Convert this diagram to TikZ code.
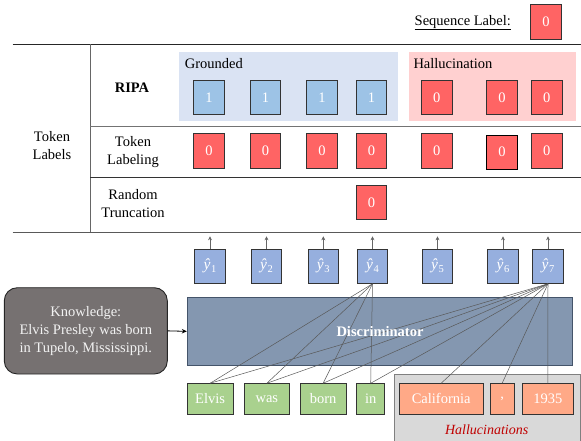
\documentclass[tikz,border=0pt]{standalone}
\usepackage{fontspec}
\setmainfont{Liberation Serif}
\usetikzlibrary{arrows.meta}
\definecolor{redbox}{HTML}{FF6464}
\definecolor{bluelab}{HTML}{9DC3E6}
\definecolor{yhatc}{HTML}{96AFDE}
\definecolor{groundbg}{HTML}{DAE3F3}
\definecolor{hallbg}{HTML}{FFD0D0}
\definecolor{greenw}{HTML}{A9D18E}
\definecolor{orangew}{HTML}{FFA987}
\definecolor{discf}{HTML}{8497B0}
\definecolor{discd}{HTML}{44546A}
\definecolor{knowf}{HTML}{767171}
\definecolor{grayreg}{HTML}{D9D9D9}
\definecolor{hallred}{HTML}{C00000}
\newcommand{\yh}[1]{{\fontsize{15.5}{18}\selectfont\itshape ŷ}\kern0.5pt\raisebox{-2.5pt}{\fontsize{10.5}{12}\selectfont #1}}
\begin{document}
\begin{tikzpicture}[x=1pt,y=-1pt,
  every node/.style={font=\fontsize{14.5}{18}\selectfont},
  lab/.style={draw=black!80, line width=0.9pt, minimum width=30.5pt, minimum height=34.3pt, inner sep=0pt, text=white},
  zero/.style={lab, fill=redbox},
  one/.style={lab, fill=bluelab},
  yhat/.style={lab, fill=yhatc},
  wordbox/.style={draw=black!80, line width=0.9pt, minimum height=30.3pt, inner sep=0pt, text=white},
  green/.style={wordbox, fill=greenw},
  orange/.style={wordbox, fill=orangew},
  conn/.style={draw=black!65, line width=0.5pt},
  up/.style={draw=black!60, line width=0.6pt, -{Stealth[length=4pt,width=4pt]}},
  rule/.style={line width=0.9pt}
]
\useasboundingbox (0,0) rectangle (581,441);

% ---- table rules ----
\draw[rule, black!85] (12.7,44.3) -- (581,44.3);
\draw[rule, black!60] (90,44.3) -- (90,232.7);
\draw[rule, black!55] (90,126.7) -- (581,126.7);
\draw[rule, black!80] (90,177.3) -- (581,177.3);
\draw[rule, black!65] (12.7,232.7) -- (581,232.7);

% ---- row headers ----
\node[align=center] (tokl) at (52,146) {Token\\Labels};
\node[font=\fontsize{14.5}{18}\selectfont\bfseries] (ripa) at (132,88) {RIPA};
\node[align=center] (tlab) at (133,152.5) {Token\\Labeling};
\node[align=center] (rtr) at (133,204) {Random\\Truncation};

% ---- sequence label ----
\node (seqt) at (462.8,22.7) {\underline{Sequence Label:}};
\node[zero] (seq) at (546,22) {0};

% ---- regions ----
\node[fill=groundbg, minimum width=218.7pt, minimum height=68.7pt, inner sep=0pt] (ground) at (288.35,86.35) {};
\node[fill=hallbg, minimum width=166.7pt, minimum height=68.7pt, inner sep=0pt] (hall) at (492.35,86.35) {};
\node[anchor=west, inner sep=0pt] (groundt) at (184.7,64) {Grounded};
\node[anchor=west, inner sep=0pt] (hallt) at (413.3,64) {Hallucination};

% ---- RIPA row ----
\node[one] (r1) at (209,97.5) {1};
\node[one] (r2) at (265.5,97.5) {1};
\node[one] (r3) at (322,97.5) {1};
\node[one] (r4) at (371.5,97.5) {1};
\node[zero] (r5) at (436.8,97.5) {0};
\node[zero] (r6) at (502,97.5) {0};
\node[zero] (r7) at (546.8,97.5) {0};

% ---- token labeling row ----
\node[zero] (t1) at (209,151) {0};
\node[zero] (t2) at (265.5,151) {0};
\node[zero] (t3) at (322,151) {0};
\node[zero] (t4) at (371.5,151) {0};
\node[zero] (t5) at (436.8,151) {0};
\node[zero, draw=black] (t6) at (502,152.2) {0};
\node[zero] (t7) at (546.8,151) {0};

% ---- random truncation row ----
\node[zero] (rt4) at (371.5,202.5) {0};

% ---- hallucination gray region ----
\node[fill=grayreg, draw=black!50, line width=0.9pt, minimum width=186pt, minimum height=72pt, inner sep=0pt] (hreg) at (487.5,410.3) {};
\node[text=hallred, font=\fontsize{14}{17}\selectfont\itshape] (hregt) at (486.7,430) {Hallucinations};

% ---- knowledge ----
\node[fill=knowf, draw=black!85, line width=0.9pt, rounded corners=13pt, minimum width=163pt, minimum height=86.3pt, inner sep=0pt, align=center, text=white!95!black] (know) at (85.8,330.85) {Knowledge:\\Elvis Presley was born\\in Tupelo, Mississippi.};

% ---- discriminator ----
\node[fill=discf, draw=discd, line width=1pt, minimum width=385.4pt, minimum height=67.3pt, inner sep=0pt] (disc) at (380,331.35) {};
\draw[-{Stealth[length=5pt,width=4.5pt]}, line width=0.8pt] (know.east) -- (disc.west);

% ---- y-hat boxes ----
\node[yhat] (y1) at (210,266.2) {\yh{1}};
\node[yhat] (y2) at (266.5,266.2) {\yh{2}};
\node[yhat] (y3) at (323.3,266.2) {\yh{3}};
\node[yhat] (y4) at (372.5,266.2) {\yh{4}};
\node[yhat] (y5) at (437.5,266.2) {\yh{5}};
\node[yhat] (y6) at (503,266.2) {\yh{6}};
\node[yhat] (y7) at (548,266.2) {\yh{7}};
\foreach \i in {1,...,7}{
  \path (y\i.north) ++(0,-12.3) coordinate (a\i);
  \draw[up] (y\i.north) -- (a\i);
}

% ---- word boxes ----
\node[green, minimum width=45.7pt] (w1) at (210.15,398.85) {Elvis};
\node[green, minimum width=45.7pt] (w2) at (266.85,398.85) {was};
\node[green, minimum width=45.7pt] (w3) at (323.15,398.85) {born};
\node[green, minimum width=28pt] (w4) at (370.7,398.85) {in};
\node[orange, minimum width=84.3pt] (w5) at (441.15,398.85) {California};
\node[orange, minimum width=24.3pt] (w6) at (502.15,398.85) {,};
\node[orange, minimum width=51pt] (w7) at (547.8,398.85) {1935};

% ---- attention connectors ----
\foreach \i in {1,...,4}{
  \draw[conn] (y4.south) -- (w\i.north);
}
\foreach \i in {1,...,7}{
  \draw[conn] (y7.south) -- (w\i.north);
}

% ---- discriminator label on top ----
\node[text=white, font=\fontsize{14.5}{18}\selectfont\bfseries] (disct) at (disc.center) {Discriminator};
\end{tikzpicture}
\end{document}
